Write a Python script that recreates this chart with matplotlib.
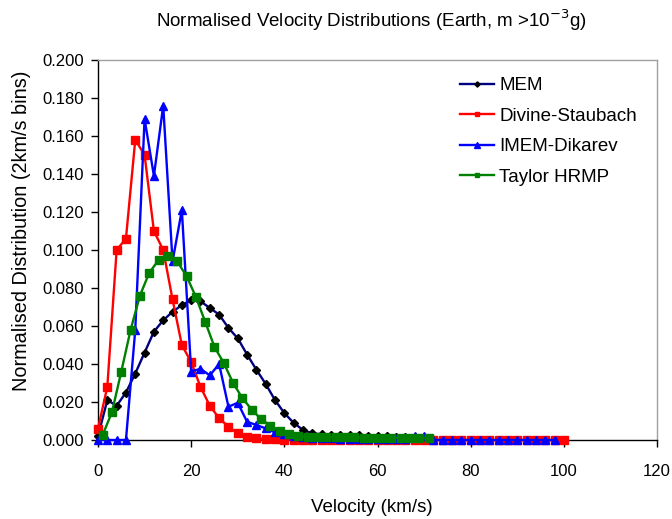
import matplotlib
matplotlib.use('Agg')
import matplotlib.pyplot as plt
from matplotlib.ticker import MultipleLocator, FormatStrFormatter

plt.rcParams['font.family'] = ['Liberation Sans', 'DejaVu Sans']

# velocity bins (km/s)
mem_v = list(range(0, 72, 2))
ds_v = list(range(0, 102, 2))
imem_v = list(range(0, 100, 2))
hrmp_v = list(range(1, 73, 2))

mem = [0.002, 0.021, 0.018, 0.025, 0.035, 0.046, 0.057, 0.063, 0.0675, 0.071,
       0.0737, 0.073, 0.0695, 0.066, 0.059, 0.0535, 0.045, 0.037, 0.0295, 0.021,
       0.0142, 0.009, 0.0053, 0.0035, 0.003, 0.0027, 0.0026, 0.0025, 0.0024, 0.0022,
       0.002, 0.0019, 0.0018, 0.0017, 0.0016, 0.0015]

divine = [0.006, 0.028, 0.100, 0.106, 0.158, 0.150, 0.110, 0.100, 0.074, 0.050,
          0.041, 0.028, 0.018, 0.0115, 0.007, 0.0035, 0.0014, 0.0008, 0.0005, 0.0003,
          0.0002, 0.0002, 0.0002, 0.0002, 0.0002, 0.0001, 0.0001, 0.0001, 0.0001, 0.0001,
          0.0001, 0.0001, 0.0001, 0.0001, 0.0001, 0.0001, 0.0001, 0.0001, 0.0001, 0.0001,
          0.0, 0.0, 0.0, 0.0, 0.0, 0.0, 0.0, 0.0, 0.0, 0.0, 0.0]

imem = [0.0, 0.0, 0.0, 0.0, 0.058, 0.169, 0.139, 0.176, 0.094, 0.121,
        0.036, 0.0375, 0.034, 0.040, 0.0175, 0.0196, 0.0096, 0.0079, 0.0061, 0.004,
        0.0032, 0.0021, 0.0018, 0.0012, 0.001, 0.0008, 0.0007, 0.0006, 0.0005, 0.0005,
        0.0005, 0.0005, 0.0005, 0.0005, 0.002, 0.002, 0.0, 0.0, 0.0, 0.0,
        0.0, 0.0, 0.0, 0.0, 0.0, 0.0, 0.0, 0.0, 0.0, 0.0]

hrmp = [0.0026, 0.0147, 0.036, 0.058, 0.076, 0.088, 0.0947, 0.097, 0.094, 0.0863,
        0.0754, 0.0623, 0.049, 0.0405, 0.030, 0.022, 0.016, 0.011, 0.0075, 0.005,
        0.0031, 0.0022, 0.0018, 0.0016, 0.0015, 0.0015, 0.0014, 0.0014, 0.0013, 0.0013,
        0.0012, 0.0012, 0.0011, 0.0011, 0.001, 0.001]

fig = plt.figure(figsize=(6.72, 5.19), dpi=100)
ax = fig.add_axes([98/672, 1-440/519, (657-98)/672, (440-60)/519])

ax.plot(mem_v, mem, color='#000080', lw=1.7, marker='D', ms=4.5,
        mfc='black', mec='black', label='MEM', clip_on=False, zorder=3)
ax.plot(ds_v, divine, color='#FF0000', lw=1.7, marker='s', ms=5.2,
        mfc='#FF0000', mec='#FF0000', label='Divine-Staubach', clip_on=False, zorder=4)
ax.plot(imem_v, imem, color='#0000FF', lw=1.7, marker='^', ms=6.2,
        mfc='#0000FF', mec='#0000FF', label='IMEM-Dikarev', clip_on=False, zorder=5)
ax.plot(hrmp_v, hrmp, color='#008000', lw=1.7, marker='s', ms=5.2,
        mfc='#008000', mec='#008000', label='Taylor HRMP', clip_on=False, zorder=6)

ax.set_xlim(0, 120)
ax.set_ylim(0, 0.2)
ax.xaxis.set_major_locator(MultipleLocator(20))
ax.yaxis.set_major_locator(MultipleLocator(0.02))
ax.yaxis.set_major_formatter(FormatStrFormatter('%.3f'))
ax.tick_params(axis='both', labelsize=12, length=5, width=1, direction='out')
ax.tick_params(axis='y', pad=5)
ax.tick_params(axis='x', pad=12)

for s in ['left', 'bottom']:
    ax.spines[s].set_color('black')
    ax.spines[s].set_linewidth(1)
for s in ['top', 'right']:
    ax.spines[s].set_color('#a0a0a0')
    ax.spines[s].set_linewidth(1)

fig.text(372/672, 1-20/519, 'Normalised Velocity Distributions (Earth, m >10$^{-3}$g)',
         ha='center', va='center', fontsize=13.5)
fig.text(372/672, 1-508/519, 'Velocity (km/s)', ha='center', va='center', fontsize=13.5)
fig.text(22/672, 1-231/519, 'Normalised Distribution (2km/s bins)', ha='center',
         va='center', rotation=90, fontsize=14.3)

leg = ax.legend(loc='upper left', bbox_to_anchor=(460/672, 1-77/519),
                bbox_transform=fig.transFigure, frameon=False, fontsize=13.5,
                borderpad=0, borderaxespad=0, labelspacing=0.72, handlelength=1.8,
                handletextpad=0.3, markerscale=0.6)

fig.savefig('out.png', dpi=100)
